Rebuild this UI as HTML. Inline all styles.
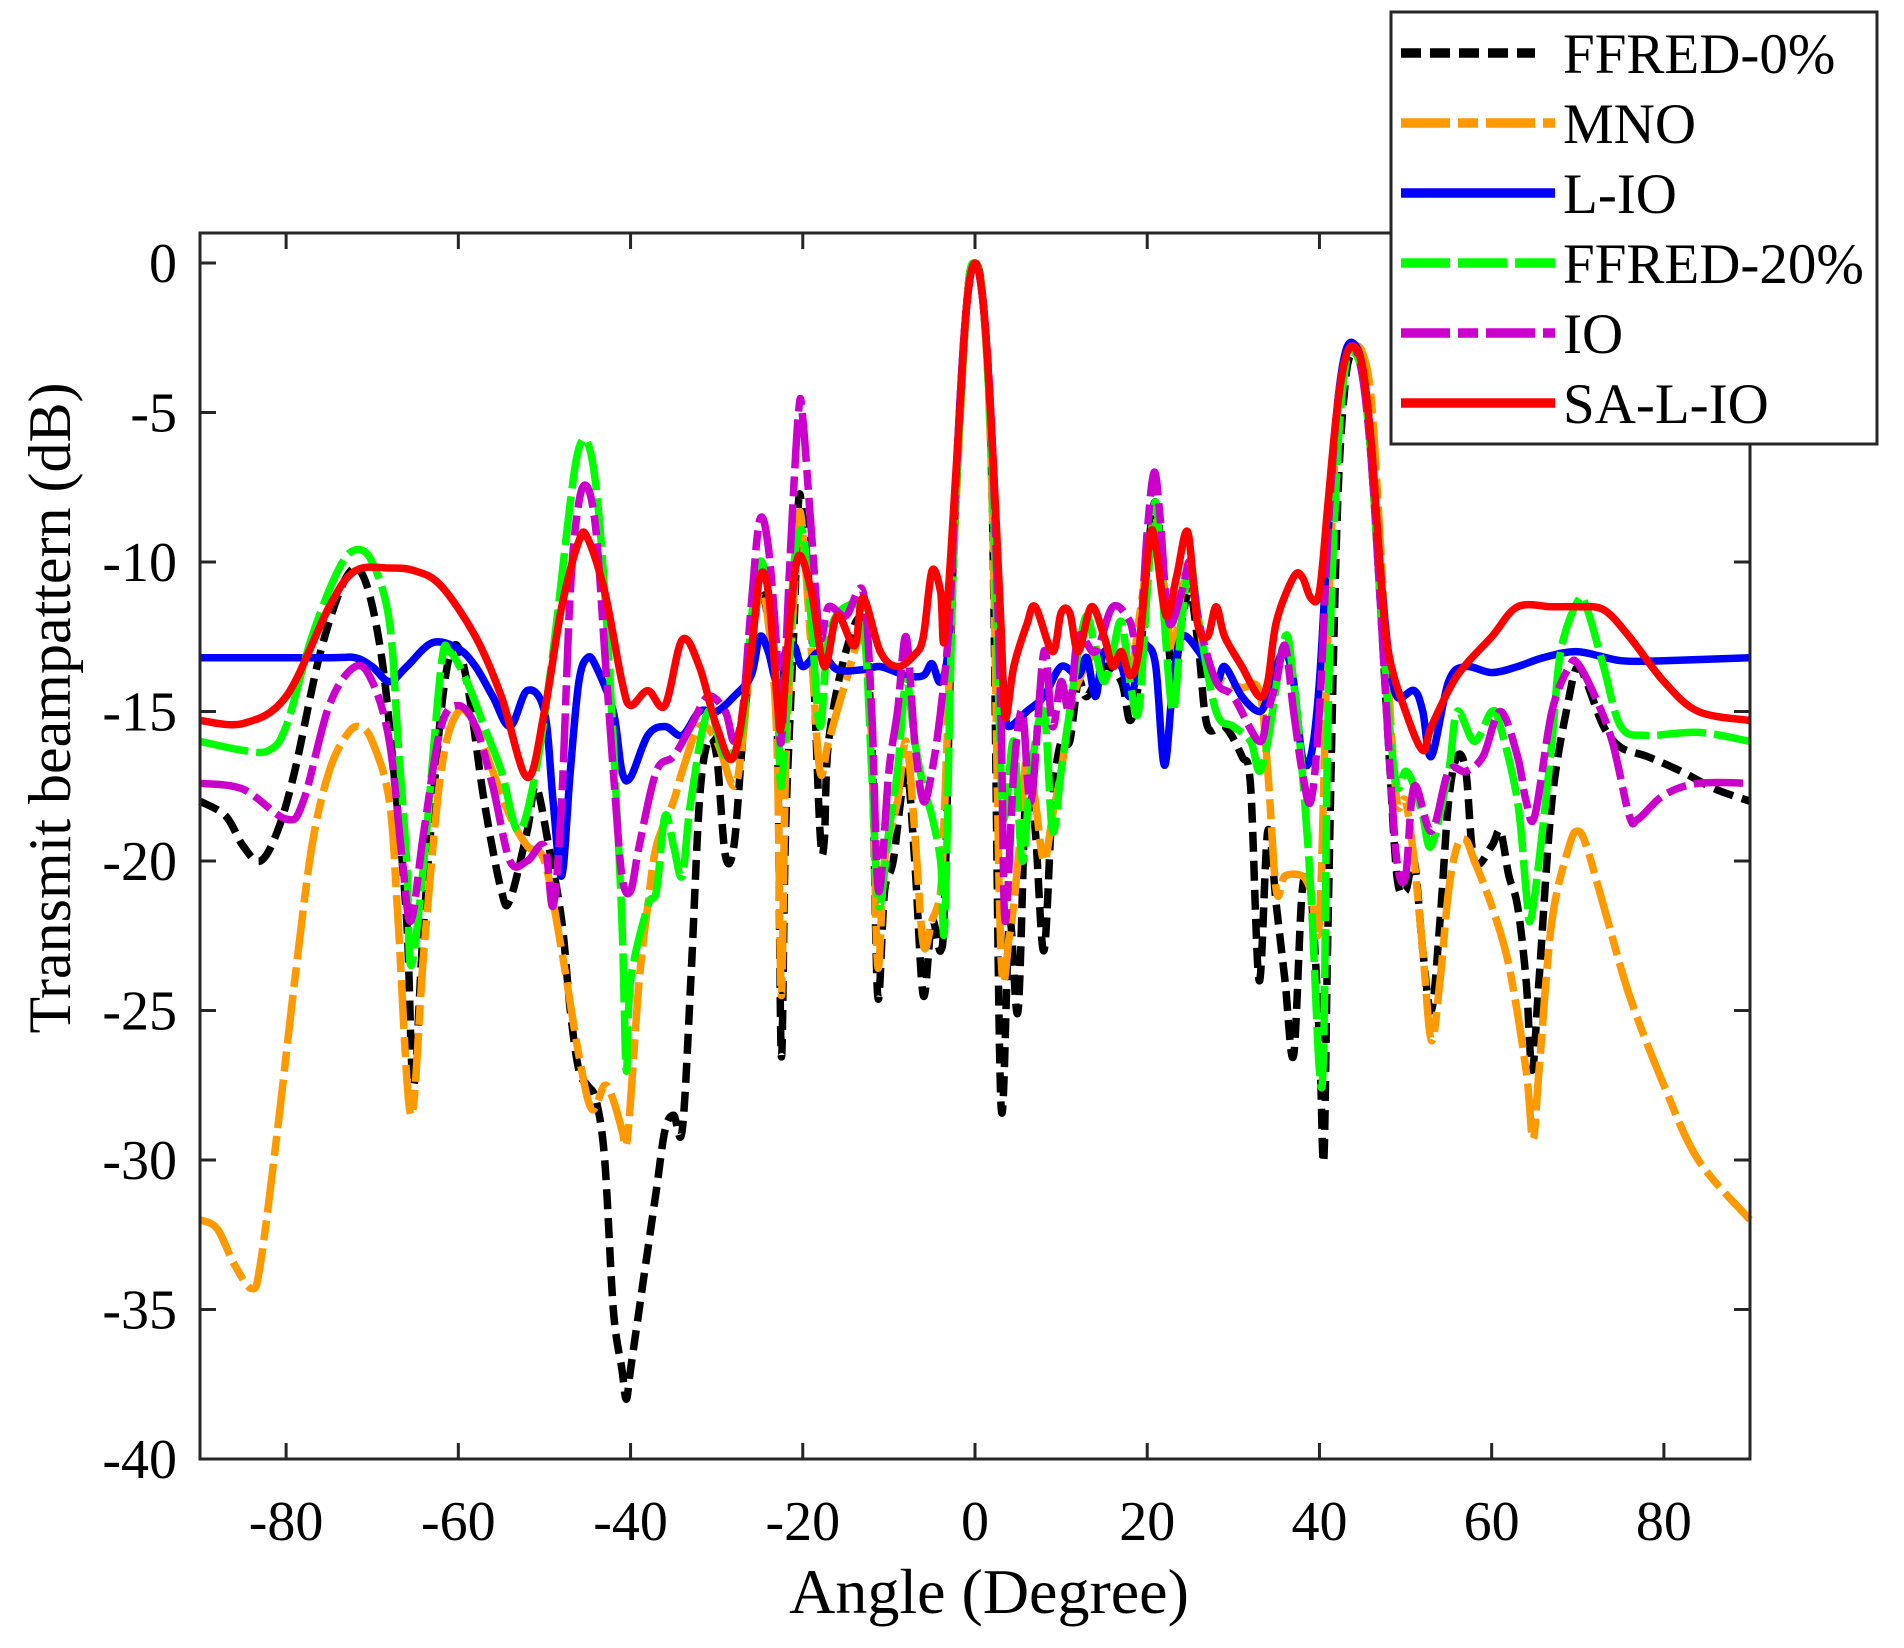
<!DOCTYPE html>
<html><head><meta charset="utf-8"><style>
html,body{margin:0;padding:0;background:#fff;}
svg{display:block;}
text{font-family:"Liberation Serif",serif;fill:#000;}
</style></head><body>
<svg id="s" width="1904" height="1648" viewBox="0 0 1904 1648" xmlns="http://www.w3.org/2000/svg">
<rect width="1904" height="1648" fill="#fff"/>
<g id="plot"></g>
<rect x="200" y="233" width="1550" height="1226" fill="none" stroke="#262626" stroke-width="3"/>
<g id="ticks" stroke="#262626" stroke-width="3"></g>
<g id="labels" font-size="56"></g>
<text x="989" y="1613" font-size="64" text-anchor="middle">Angle (Degree)</text>
<text transform="translate(70,708) rotate(-90)" font-size="60" text-anchor="middle">Transmit beampattern (dB)</text>
<g>
<rect x="1391" y="12" width="486" height="432" fill="#fff" stroke="#262626" stroke-width="3"/>
<line x1="1401" y1="53" x2="1535" y2="53" stroke="#000" stroke-width="9.5" stroke-dasharray="20,9"/>
<line x1="1401" y1="123" x2="1555" y2="123" stroke="#ff9900" stroke-width="9.5" stroke-dasharray="49,8,20,8"/>
<line x1="1401" y1="193" x2="1555" y2="193" stroke="#0000ff" stroke-width="9.5"/>
<line x1="1401" y1="263" x2="1555" y2="263" stroke="#00ff00" stroke-width="9.5" stroke-dasharray="49,8"/>
<line x1="1401" y1="333" x2="1555" y2="333" stroke="#cc00cc" stroke-width="9.5" stroke-dasharray="49,8,20,8"/>
<line x1="1401" y1="403" x2="1555" y2="403" stroke="#ff0000" stroke-width="9.5"/>
<g font-size="57">
<text x="1563" y="73">FFRED-0%</text>
<text x="1563" y="143">MNO</text>
<text x="1563" y="213">L-IO</text>
<text x="1563" y="283">FFRED-20%</text>
<text x="1563" y="353">IO</text>
<text x="1563" y="423">SA-L-IO</text>
</g>
</g>
</svg>
<script>
var X=function(a){return 200+(a+90)*1550/180;};
var Y=function(d){return 263-d*29.9;};
var NS="http://www.w3.org/2000/svg";
function P(s){var v=s.trim().split(/[\s,]+/).map(Number),r=[];for(var i=0;i<v.length;i+=2)r.push([X(v[i]),Y(v[i+1])]);return r;}
function path(pts){var d="M"+pts[0][0].toFixed(1)+","+pts[0][1].toFixed(1);
for(var i=0;i<pts.length-1;i++){var p0=pts[i-1]||pts[i],p1=pts[i],p2=pts[i+1],p3=pts[i+2]||p2;
var c1=[p1[0]+(p2[0]-p0[0])/6,p1[1]+(p2[1]-p0[1])/6],c2=[p2[0]-(p3[0]-p1[0])/6,p2[1]-(p3[1]-p1[1])/6];
d+="C"+c1[0].toFixed(1)+","+c1[1].toFixed(1)+" "+c2[0].toFixed(1)+","+c2[1].toFixed(1)+" "+p2[0].toFixed(1)+","+p2[1].toFixed(1);}
return d;}
var S=[
["#000","20,9","-90 -18 -87 -18.5 -85 -19.5 -83 -20 -81 -19 -79 -17 -76 -13 -73 -10.5 -71 -10.5 -69 -13 -67.5 -17 -66 -22 -65.2 -27.5 -64 -22 -62 -15 -60.5 -12.8 -59 -14 -57 -18 -55 -21 -54 -21.3 -52 -19 -51 -17.5 -49.5 -19.5 -48 -22 -47 -25 -46 -27 -45 -27.5 -44 -28 -43 -30 -42 -35 -41 -37 -40.5 -38 -40 -37 -39 -35 -38 -33 -37 -31 -36 -29 -35 -28.5 -34 -29 -33 -24 -32 -18 -31 -16 -30 -16.5 -29 -19.8 -28 -19.5 -27 -16 -26 -13 -25 -11 -24 -12 -23 -15 -22.5 -26.5 -22 -19 -21 -12 -20.5 -8 -20 -8.5 -19 -12 -18 -19 -17.5 -19.3 -17 -16 -15 -13 -13 -12 -12 -16 -11.3 -24.5 -10.5 -21 -9.5 -20 -8 -17 -7 -20 -6 -24.5 -5 -22 -4 -23 -3.5 -21 -2.5 -10 -1 -1.5 0 0 1 -1.5 2 -8 3 -28 4 -22 5 -25 6 -17 7 -19 8 -23 9 -18 10 -16 11 -16 12 -14 13 -14.5 15 -13.5 17 -14 18 -15.3 19 -14 20 -10 21 -8 22 -11 23 -14 24 -12 25 -11 26 -13 27 -15.5 29 -15.5 31 -16.5 32 -17.5 33 -24 34 -19 35 -21.5 36 -24 37 -26.5 38 -21 39 -21 40 -26 40.5 -30 41 -22 42 -9 43 -4 44 -3 45 -3.5 46 -6.5 47 -11 48 -16 49 -20.5 50 -21 51 -20 52 -23 53 -25 54 -22 55 -18 56 -16.5 57 -17 58 -20 60 -19.5 61 -19 62 -20.5 63 -21.5 64 -24 64.7 -27 65.5 -24 67 -18 69 -14.5 70 -13.5 71 -14 73 -15.5 75 -16.2 78 -16.5 82 -17 86 -17.6 90 -18"],
["#ff9900","49,8,20,8","-90 -32 -88 -32.3 -86 -33.5 -84 -34.3 -83 -33.5 -81 -29 -79 -24 -77 -19.5 -75 -17 -73 -15.8 -71.5 -15.5 -70 -16 -68 -18 -67 -22 -65.5 -28.5 -64 -23 -62 -17 -60 -15 -58 -15.5 -56 -17 -54 -18.5 -52 -19.5 -50 -20 -48 -23 -46 -26.5 -44.5 -28.3 -43 -27.5 -42 -28 -41 -29 -40.5 -29.5 -40 -28 -39 -24 -38 -21.5 -37 -19.5 -35 -18 -34 -17 -32 -15.5 -30 -16 -28 -17.5 -27 -16 -26 -13 -25 -11 -24 -12 -23 -16 -22.5 -24.5 -22 -17 -21 -11 -20.5 -8.5 -20 -9 -19 -13 -18 -17 -17 -16 -15 -14 -13 -12.5 -12 -16 -11.3 -23.5 -10.5 -20 -9 -18 -8 -16 -7 -19 -6 -22.8 -5 -22 -4 -21 -3.5 -18 -2.5 -10 -1 -1.5 0 0 1 -1.5 2 -8 3 -23 4 -22.5 5 -20 6 -16.5 7 -18 8 -20 9 -18.5 10 -17 11 -15 12 -14 14 -13 16 -13 18 -13.8 19 -12 20 -10 21 -8.5 22 -11 23 -13 24 -11 25 -10.5 26 -12 27 -13.5 29 -14 31 -14.2 33 -14.3 34 -17 35 -21 36 -20.5 38 -20.5 39 -21 40 -22 41 -12 42 -5.5 43 -3.2 44 -2.8 45 -3 46 -4.5 47 -9 48 -14 49 -18 50 -18 51 -20 52 -23 53 -26 54 -24 55 -21 56 -19.5 57 -19.3 58 -20 60 -21.5 62 -23.5 64 -27 64.8 -29.3 65.5 -27 67 -22 69 -19.5 70 -19 71 -19.5 73 -21.5 76 -24.5 80 -27.5 84 -30 90 -32"],
["#0000ff","","-90 -13.2 -75 -13.2 -72 -13.2 -70 -13.5 -68 -14 -66 -13.5 -63 -12.7 -60 -12.9 -58 -13.5 -56 -14.5 -54 -15.5 -52 -14.3 -50 -15 -49 -18 -48 -20.5 -47 -17 -46 -14 -45 -13.2 -44 -13.5 -42 -15 -41 -17 -40 -17.2 -38 -15.8 -36 -15.5 -34 -15.8 -32 -15 -30 -15 -28 -14.5 -26 -13.8 -25 -12.5 -24 -13 -23 -14 -22 -13 -21 -12.8 -20 -13.5 -18 -13 -16 -13.6 -13 -13.6 -11 -13.5 -8 -13.8 -6 -13.8 -5 -13.4 -4 -14 -3 -12.5 -2 -6 -1 -1.5 0 0 1 -1.5 2 -6 3 -12.5 3.5 -15 4 -15.5 6 -15 8 -14.5 10 -13.5 12 -13.8 13 -13.2 14 -14.5 15 -13 17 -13.5 18 -14.5 19.5 -13 20 -12.8 21 -13.5 22 -16.8 23 -14 24 -12.5 26 -13 28 -14 29 -13.5 31 -14.5 33 -15 34 -14.5 35 -13.5 36 -13 37 -14 38 -16.5 39 -16.5 40 -14 41 -9 42 -5 43 -3 44 -2.7 45 -3.5 46 -6 47 -10 48 -13 49 -14.5 51 -14.3 52 -15 53 -16.5 55 -14 57 -13.5 60 -13.7 63 -13.5 66 -13.2 70 -13 75 -13.3 80 -13.3 90 -13.2"],
["#00ff00","49,8","-90 -16 -85 -16.3 -82 -16.3 -80 -15.5 -77 -12.5 -74 -10.3 -72 -9.6 -70 -10 -68 -12 -67 -16 -66 -20 -65.5 -23.5 -64 -20 -62 -13.5 -61 -13 -59 -14 -57 -15.5 -55 -17 -53 -19 -51 -17 -49 -13 -47 -8 -46 -6.2 -45 -6 -44 -7.5 -43 -11 -42 -16 -41 -22 -40.5 -27 -40 -24 -38 -21.5 -37 -21 -36 -18.5 -35 -19.5 -34 -20.5 -33 -18 -31 -15 -29 -16.5 -27 -15.5 -26 -12 -25 -10 -24 -11 -23 -14 -22.5 -17.5 -21.5 -13 -21 -10 -20 -9 -19 -12 -18 -15.5 -17 -12.5 -15 -11.5 -13 -12 -12 -17 -11.2 -21.5 -10 -19 -9 -17 -8 -14 -7 -16 -6 -17.5 -5 -18.5 -4 -20 -3.5 -22 -2.5 -10 -1 -1.5 0 0 1 -1.5 2 -7 3 -17 3.5 -18.5 4.5 -16 5.5 -20 6.5 -17 8 -15 9 -19 10 -17 11 -15 12 -13 13 -11.8 14 -13 15 -14 16 -13 17 -12 18 -14 19 -15 20 -11 21 -8 22 -12 23 -15 24 -12 25 -10 26 -12 28 -15 30 -15.5 32 -16 33 -17 34 -16 36 -12.5 37 -14 38 -17 39 -21 40 -27 40.5 -26 41 -15 42 -7 43 -3.5 44 -3 45 -3.8 46 -6.5 47 -11 48 -15 49 -17.5 50 -17 51 -17.5 52 -18.5 53 -19.5 55 -17 56 -15 58 -16 60 -15 61 -15.5 63 -18 64 -21 64.5 -22 65.5 -20 67 -16 68 -13 70 -11.3 71 -11.5 73 -13.5 75 -15.5 78 -15.8 84 -15.7 90 -16"],
["#cc00cc","49,8,20,8","-90 -17.4 -85 -17.6 -80 -18.6 -78 -18 -75 -14.8 -72 -13.5 -70 -14 -68 -16 -66.5 -20 -65.5 -22 -64 -19 -62 -15.5 -60 -14.8 -58 -15.5 -56 -17.5 -54 -20 -52 -20 -50 -19.5 -49 -21.5 -48 -18 -47 -11 -46 -8 -45 -7.5 -44 -9 -43 -13 -42 -17 -41 -20.5 -40 -21 -39 -19.5 -37 -17 -35 -16.5 -33 -15.5 -31 -14.5 -29 -15 -28 -16 -27 -15 -26 -11.5 -25 -8.6 -24 -9.5 -23 -13 -22.5 -16 -21.5 -10 -20.5 -5 -20 -5.2 -19 -9 -18 -12.5 -17 -11.5 -15 -11.8 -13 -11 -12 -15 -11.2 -21 -10 -17 -9 -15 -8 -12.5 -7 -16 -6 -18 -5 -17 -4 -15 -3 -12 -2 -6 -1 -1.5 0 0 1 -1.5 2 -6 3 -15 3.5 -22 4.5 -17 5.5 -15 6.5 -18 8 -13 9 -15.5 10 -14 11 -15 12 -12.5 14 -13 16 -11.5 18 -12 19 -13 20 -9 20.8 -7 21.5 -8.5 22.5 -12 24 -11 25 -10 26 -12 28 -14 30 -14.5 33 -16 34 -15 35 -14 36 -12.8 37 -15 38 -17 39 -18 40 -15 41 -9 42 -5 43 -3.2 44 -2.8 45 -3.8 46 -6.5 47 -11 48 -16 49 -20 50 -20.5 51 -17.5 53 -19 55 -17 57 -17 59 -16.5 61 -15 63 -16.5 64 -18 65 -18.5 67 -15 69 -13.5 70 -13.4 72 -14.5 74 -16 76 -18.5 77 -18.6 80 -17.8 84 -17.4 90 -17.4"],
["#ff0000","","-90 -15.3 -85 -15.4 -80 -14.5 -75 -11.5 -72 -10.3 -68 -10.2 -65 -10.3 -62 -10.8 -58 -12.5 -55 -14.5 -52 -17.2 -50 -15 -48 -11.5 -46 -9.3 -45 -9.2 -43 -11 -41 -14 -40 -14.8 -38 -14.3 -36 -14.8 -34 -12.6 -32 -13.5 -30 -15.5 -28 -16.5 -26 -13 -25 -10.5 -24 -11 -23 -14.5 -22.5 -15.5 -21.5 -12 -20.5 -9.8 -19 -11 -17.5 -13.5 -16 -11.8 -14 -12.8 -13 -11.2 -11 -13 -9 -13.5 -7 -13.1 -6 -12.5 -5 -10.3 -4 -11 -3.5 -12.5 -2 -6 -1 -1.5 0 0 1 -1.5 2 -6 3 -12 3.5 -15.2 4.5 -13.5 6 -12.1 7 -11.5 9 -13 10 -11.7 11 -11.7 12 -13 13.5 -11.5 15 -12.5 16 -13.5 17 -13 18 -13.8 19 -13 20.3 -9.2 21 -9.5 22.2 -11.8 23.4 -10.5 24.7 -9 25.8 -12 27 -12.5 28 -11.5 29 -12.5 31 -13.5 33 -14.5 34 -14 35 -12 37 -10.5 38 -10.5 39 -11.2 40 -11 41 -8 42 -5 43 -3.2 44 -2.8 45 -3.5 46 -6 47 -10 48 -13 50 -15 52 -16.3 53 -15.5 56 -13.8 60 -12.5 63 -11.5 67 -11.5 70 -11.5 73 -11.6 76 -12.5 80 -14 84 -15 90 -15.3"]];
var g=document.getElementById("plot");
S.forEach(function(s){var p=document.createElementNS(NS,"path");p.setAttribute("d",path(P(s[2])));p.setAttribute("fill","none");p.setAttribute("stroke",s[0]);p.setAttribute("stroke-width","7.5");p.setAttribute("stroke-linejoin","round");if(s[1])p.setAttribute("stroke-dasharray",s[1]);g.appendChild(p);});
var t=document.getElementById("ticks"),l=document.getElementById("labels"),h="";
for(var a=-80;a<=80;a+=20){var x=X(a);t.innerHTML+='<line x1="'+x+'" y1="1459" x2="'+x+'" y2="1443"/><line x1="'+x+'" y1="233" x2="'+x+'" y2="249"/>';
h+='<text x="'+x+'" y="1540" text-anchor="middle">'+(a<0?'-'+(-a):a)+'</text>';}
for(var d=0;d>=-40;d-=5){var y=Y(d);t.innerHTML+='<line x1="200" y1="'+y+'" x2="216" y2="'+y+'"/><line x1="1750" y1="'+y+'" x2="1734" y2="'+y+'"/>';
h+='<text x="177" y="'+(y+19)+'" text-anchor="end">'+(d<0?'-'+(-d):d)+'</text>';}
l.innerHTML=h;
</script>
</body></html>
